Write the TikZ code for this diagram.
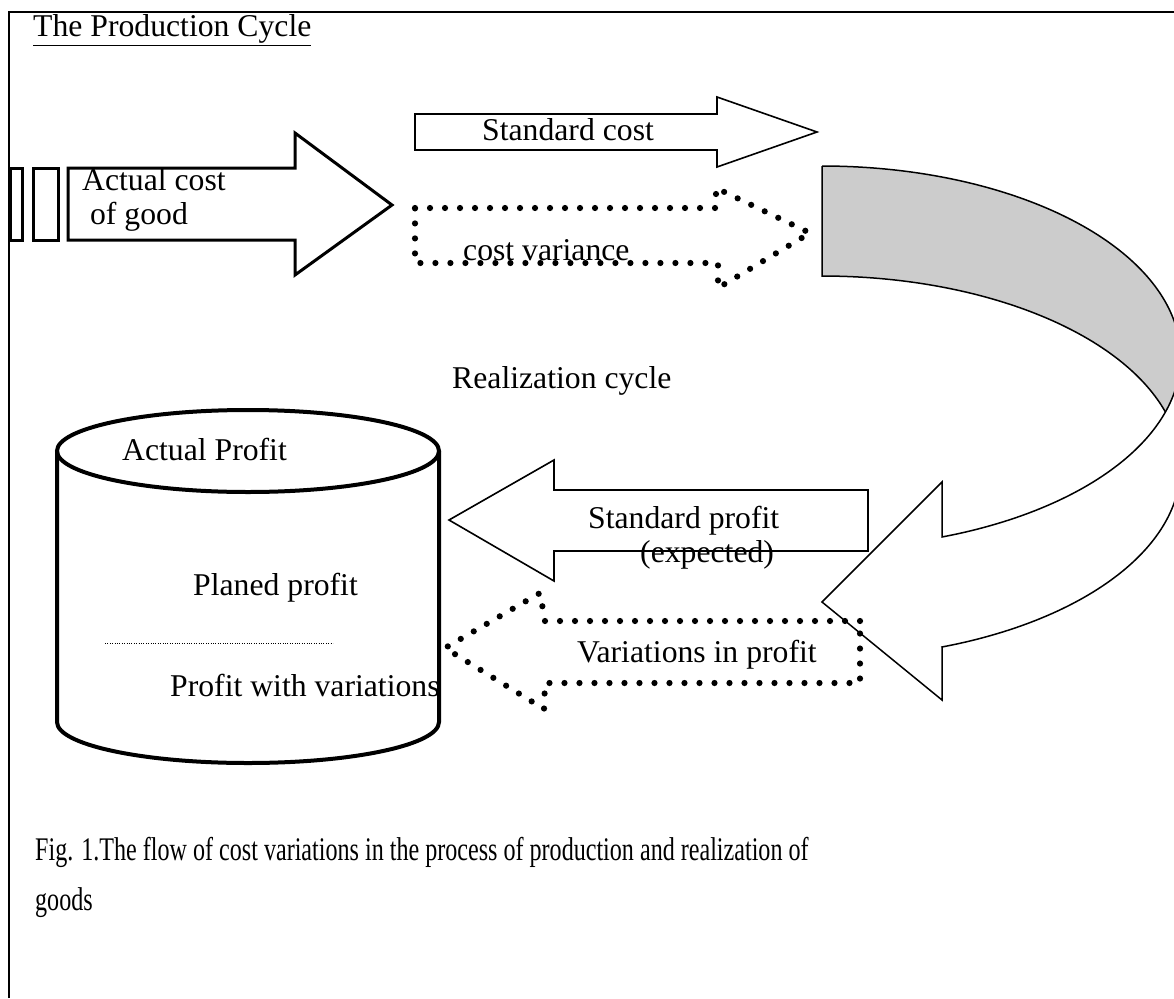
\documentclass[tikz,border=0pt]{standalone}
\usepackage{fontspec}
\setmainfont{Liberation Serif}
\begin{document}
\begin{tikzpicture}[x=1pt,y=-1pt,
  lbl/.style={inner sep=0pt, anchor=base west, font=\fontsize{31.7}{38}\selectfont},
  caplbl/.style={inner sep=0pt, anchor=base west, font=\fontsize{33}{40}\selectfont},
  solidarrow/.style={draw=black, fill=white, line width=1.6pt, line join=miter},
  heavyarrow/.style={draw=black, line width=3pt, line join=miter},
  dotarrow/.style={draw=black, line width=6.2pt, line cap=round, dash pattern=on 0pt off 15pt},
  bandline/.style={draw=black, line width=1.5pt},
  drum/.style={draw=black, line width=4pt}]
\useasboundingbox (0,0) rectangle (1174,998);
\fill[white] (0,0) rectangle (1174,998);

% frame
\draw[line width=2pt] (9,998) -- (9,12) -- (1174,12);

% title
\node[lbl] (title) at (33,37) {\underline{The Production Cycle}};

% curved return arrow: shaded back band, then the front band with its head
\begin{scope}
  \clip (0,0) rectangle (1174,998);
  \fill[gray!40] plot[domain=0:90, samples=80, variable=\t]
      ({822+358.6*sin(\t)}, {357-191*cos(\t)})
    -- plot[domain=0:90, samples=80, variable=\t]
      ({822+358.6*cos(\t)}, {467-191*sin(\t)}) -- cycle;
  \draw[bandline] plot[domain=0:90, samples=80, variable=\t]
      ({822+358.6*sin(\t)}, {357-191*cos(\t)});
  \draw[bandline] plot[domain=0:90, samples=80, variable=\t]
      ({822+358.6*cos(\t)}, {467-191*sin(\t)}) -- (822,166);
  \draw[bandline, fill=white, line join=miter]
    plot[domain=0:70.45, samples=80, variable=\t]
      ({822+358.6*cos(\t)}, {357+191*sin(\t)})
    -- (942,482) -- (822,602) -- (942,700) -- (942,647)
    -- plot[domain=0:70.45, samples=80, variable=\t]
      ({822+358.6*cos(70.45-\t)}, {467+191*sin(70.45-\t)}) -- cycle;
\end{scope}

% actual cost arrow with its tail stripes
\draw[heavyarrow] (10,168) rectangle (22,240);
\draw[heavyarrow] (33,168) rectangle (58,240);
\draw[heavyarrow] (68,168) -- (295,168) -- (295,133) -- (392,205)
  -- (295,275) -- (295,240) -- (68,240) -- cycle;
\node[lbl] (actual1) at (82,190) {Actual cost};
\node[lbl] (actual2) at (82,224) {\ of good};

% standard cost arrow
\draw[solidarrow] (415,114) -- (717,114) -- (717,97) -- (817,132)
  -- (717,167) -- (717,150) -- (415,150) -- cycle;
\node[lbl] (stdcost) at (482,140) {Standard cost};

% cost variance arrow
\draw[dotarrow] (415,208) -- (716,208) -- (716,188) -- (810,233)
  -- (718,288) -- (718,263) -- (415,263) -- cycle;
\node[lbl] (costvar) at (463,260) {cost variance};

\node[lbl] (realization) at (452,388) {Realization cycle};

% profit store
\draw[drum, fill=white] (57,451) -- (57,722)
  arc[start angle=180, end angle=360, x radius=191pt, y radius=41pt]
  -- (439,451);
\draw[drum] (248,451) ellipse[x radius=191pt, y radius=41pt];
\draw[line width=0.8pt, dash pattern=on 0.8pt off 1.6pt] (105,643) -- (333,643);
\node[lbl] (actprofit) at (122,460) {Actual Profit};
\node[lbl] (planned) at (193,595) {Planed profit};
\node[lbl] (withvar) at (170,696) {Profit with variations};

% standard profit arrow
\draw[solidarrow] (868,490) -- (554,490) -- (554,460) -- (449,520)
  -- (554,581) -- (554,551) -- (868,551) -- cycle;
\node[lbl] (stdprofit) at (588,528) {Standard profit};
\node[lbl] (expected) at (640,562) {(expected)};

% variations in profit arrow
\draw[dotarrow] (860,621) -- (545,621) -- (540,593) -- (445,648)
  -- (544,709) -- (545,683) -- (860,683) -- cycle;
\node[lbl] (varprofit) at (577,662) {Variations in profit};

% caption
\node[caplbl] (cap1) at (35,860) {\scalebox{0.73}[1]{Fig. 1.The flow of cost variations in the process of production and realization of}};
\node[caplbl] (cap2) at (35,910) {\scalebox{0.73}[1]{goods}};
\end{tikzpicture}
\end{document}
